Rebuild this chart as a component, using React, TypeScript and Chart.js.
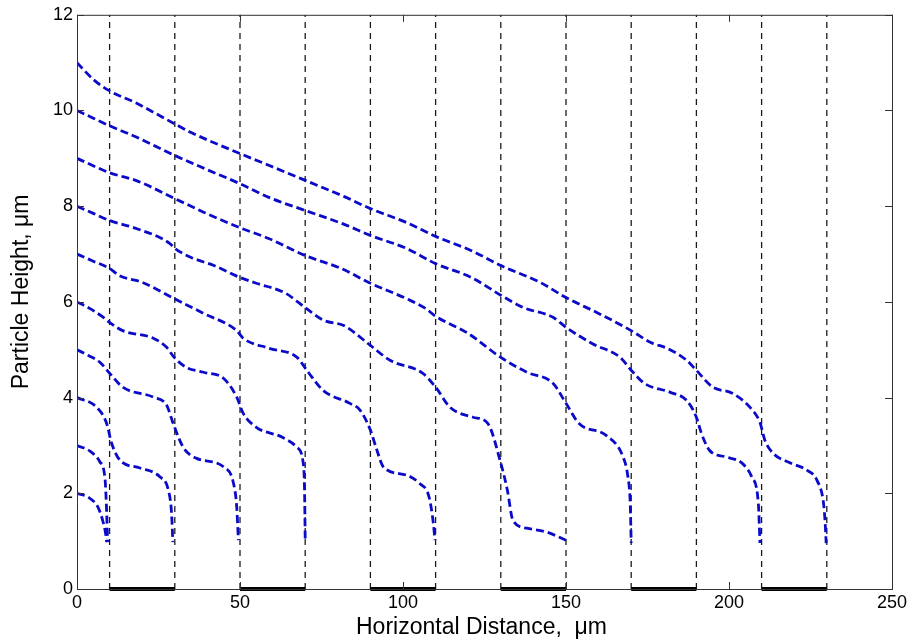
import React, { useEffect, useRef } from "react";
import { Chart, registerables } from "chart.js";
Chart.register(...registerables);

// Axis ticks
const xTicks = [0, 50, 100, 150, 200, 250];
const yTicks = [0, 2, 4, 6, 8, 10, 12];
const xTitle = "Horizontal Distance,  μm";
const yTitle = "Particle Height, μm";

// Electrode edges (dashed verticals) and electrodes on the floor
const edgeLines = [10, 30, 50, 70, 90, 110, 130, 150, 170, 190, 210, 230];
const electrodeStarts = [10, 50, 90, 130, 170, 210];
const electrodeEnds = [30, 70, 110, 150, 190, 230];

// Particle trajectories (start height in name)
const x11 = [0, 5, 10, 18, 30, 35, 50, 59, 70, 82, 90, 101, 110, 121, 130, 142, 150, 160, 170, 176, 181, 187, 190, 195, 201, 206.4, 209.5, 211, 213.5, 219, 224, 227, 229, 229.5, 229.8];
const y11 = [11.0, 10.65, 10.41, 10.16, 9.72, 9.54, 9.10, 8.85, 8.54, 8.20, 7.95, 7.66, 7.37, 7.07, 6.76, 6.41, 6.09, 5.76, 5.40, 5.15, 5.03, 4.78, 4.57, 4.22, 4.09, 3.80, 3.48, 3.11, 2.84, 2.63, 2.48, 2.27, 1.79, 1.38, 0.96];

const x10 = [0, 5, 10, 18, 30, 39, 50, 59, 70, 82, 90, 101, 110, 121, 130, 137, 146, 150, 158, 166.6, 170, 174, 182, 187, 190, 191.5, 194, 199, 204, 207, 209, 209.5];
const y10 = [10.0, 9.84, 9.68, 9.45, 9.06, 8.79, 8.47, 8.18, 7.91, 7.62, 7.39, 7.12, 6.80, 6.51, 6.14, 5.88, 5.68, 5.47, 5.13, 4.84, 4.57, 4.30, 4.11, 3.94, 3.59, 3.26, 2.90, 2.76, 2.63, 2.34, 1.79, 0.96];

const x9 = [0, 10, 18.4, 30, 39, 50, 59, 70, 81, 90, 101, 107, 110, 120, 130, 138, 146, 150, 154, 162.5, 167.5, 169, 169.7, 170];
const y9 = [9.0, 8.70, 8.53, 8.16, 7.87, 7.55, 7.32, 6.97, 6.70, 6.39, 6.07, 5.86, 5.70, 5.34, 4.84, 4.53, 4.30, 3.88, 3.46, 3.20, 2.76, 2.34, 1.79, 0.96];

const x8 = [0, 5, 10, 18.4, 28.5, 30, 35, 42, 50, 55, 64, 70, 75.5, 82, 90, 96, 106, 110, 114.4, 121.5, 126, 130, 132, 133.7, 138, 144, 150];
const y8 = [8.0, 7.85, 7.70, 7.53, 7.22, 7.12, 6.93, 6.76, 6.51, 6.39, 6.18, 5.88, 5.62, 5.50, 5.09, 4.78, 4.51, 4.22, 3.80, 3.59, 3.46, 2.63, 2.07, 1.44, 1.27, 1.19, 1.02];

const x7 = [0, 5, 10, 13, 20, 29.8, 38.8, 49, 51, 59, 67.5, 70.5, 75.5, 83.7, 86.8, 90, 92, 94, 101, 105, 108, 109.3, 109.8];
const y7 = [7.0, 6.85, 6.70, 6.55, 6.41, 6.07, 5.76, 5.40, 5.24, 5.03, 4.84, 4.57, 4.15, 3.88, 3.74, 3.32, 2.90, 2.55, 2.38, 2.21, 1.92, 1.38, 1.02];

const x6 = [0, 4, 8, 10, 14, 23.4, 27.5, 29.8, 33.6, 38.8, 45, 49, 51, 55, 63, 67.5, 69.4, 69.8, 70];
const y6 = [6.0, 5.86, 5.68, 5.57, 5.40, 5.24, 5.05, 4.84, 4.63, 4.53, 4.40, 4.01, 3.67, 3.38, 3.17, 2.96, 2.63, 2.07, 1.02];

const x5 = [0, 3.5, 7, 10, 14, 23.4, 27.5, 29.5, 32.6, 36.7, 45, 48, 49, 49.5];
const y5 = [5.0, 4.88, 4.74, 4.51, 4.22, 4.01, 3.84, 3.46, 2.96, 2.73, 2.55, 2.21, 1.71, 1.02];

const x4 = [0, 6, 9.1, 10.6, 13.2, 19.3, 25.5, 28, 29, 29.4];
const y4 = [4.0, 3.80, 3.46, 3.05, 2.69, 2.53, 2.34, 2.07, 1.59, 0.98];

const x3 = [0, 4, 7, 8.6, 9.1, 9.4];
const y3 = [3.0, 2.88, 2.66, 2.30, 1.60, 0.98];

const x2 = [0, 3.4, 6.5, 8, 8.8, 9.1];
const y2 = [2.0, 1.92, 1.70, 1.40, 1.15, 0.98];

const trajectories = [
  [x11, y11], [x10, y10], [x9, y9], [x8, y8], [x7, y7],
  [x6, y6], [x5, y5], [x4, y4], [x3, y3], [x2, y2],
];

const FONT = "'Liberation Sans', Arial, Helvetica, sans-serif";

const framePlugin = {
  id: "frameTicks",
  afterDraw(chart: any) {
    const { ctx, chartArea: a, scales } = chart;
    ctx.save();
    ctx.strokeStyle = "#333";
    ctx.lineWidth = 1;
    ctx.strokeRect(a.left + 0.5, a.top + 0.5, a.right - a.left, a.bottom - a.top);
    ctx.beginPath();
    const len = 7;
    xTicks.forEach((v) => {
      const p = Math.round(scales.x.getPixelForValue(v)) + 0.5;
      ctx.moveTo(p, a.bottom);
      ctx.lineTo(p, a.bottom - len);
      ctx.moveTo(p, a.top);
      ctx.lineTo(p, a.top + len);
    });
    yTicks.forEach((v) => {
      const p = Math.round(scales.y.getPixelForValue(v)) + 0.5;
      ctx.moveTo(a.left, p);
      ctx.lineTo(a.left + len, p);
      ctx.moveTo(a.right, p);
      ctx.lineTo(a.right - len, p);
    });
    ctx.stroke();

    // axis titles
    ctx.fillStyle = "#000";
    ctx.font = `23px ${FONT}`;
    ctx.textAlign = "center";
    ctx.textBaseline = "alphabetic";
    ctx.fillText(xTitle, (a.left + a.right) / 2 - 3, 634);
    ctx.translate(28, (a.top + a.bottom) / 2 - 10);
    ctx.rotate(-Math.PI / 2);
    ctx.fillText(yTitle, 0, 0);
    ctx.restore();
  },
};

export default function App() {
  const ref = useRef<HTMLCanvasElement | null>(null);
  useEffect(() => {
    document.body.style.margin = "0";
    document.body.style.overflow = "hidden";
    const curveSets = trajectories.map(([xs, ys]) => ({
      type: "line",
      data: xs.map((x, i) => ({ x, y: ys[i] })),
      borderColor: "rgb(10,10,200)",
      borderWidth: 2.8,
      borderDash: [8, 4],
      pointRadius: 0,
      cubicInterpolationMode: "monotone",
      fill: false,
    }));
    const edgeSets = edgeLines.map((x) => ({
      type: "line",
      data: [{ x, y: 0 }, { x, y: 12 }],
      borderColor: "#1a1a1a",
      borderWidth: 1.3,
      borderDash: [6, 5],
      pointRadius: 0,
      fill: false,
    }));
    const electrodeSets = electrodeStarts.map((s, i) => ({
      type: "line",
      data: [{ x: s, y: 0 }, { x: electrodeEnds[i], y: 0 }],
      borderColor: "#000",
      borderWidth: 4,
      pointRadius: 0,
      clip: false,
      fill: false,
    }));
    const chart = new Chart(ref.current as HTMLCanvasElement, {
      type: "line",
      data: { datasets: [...curveSets, ...electrodeSets, ...edgeSets] as any },
      options: {
        animation: false,
        responsive: false,
        layout: { padding: { left: 0, right: 19, top: 14, bottom: 0 } },
        plugins: { legend: { display: false }, tooltip: { enabled: false } },
        scales: {
          x: {
            type: "linear",
            min: 0,
            max: 250,
            afterBuildTicks: (s: any) => { s.ticks = xTicks.map((v) => ({ value: v })); },
            afterFit: (s: any) => { s.height = 52; },
            ticks: { color: "#000", padding: 3, maxRotation: 0, font: { size: 18, family: FONT } },
            grid: { display: false, drawTicks: false },
            border: { display: false },
            title: { display: false },
          },
          y: {
            type: "linear",
            min: 0,
            max: 12,
            afterBuildTicks: (s: any) => { s.ticks = yTicks.map((v) => ({ value: v })); },
            afterFit: (s: any) => { s.width = 77; },
            ticks: { color: "#000", padding: 4, font: { size: 18, family: FONT } },
            grid: { display: false, drawTicks: false },
            border: { display: false },
            title: { display: false },
          },
        },
      } as any,
      plugins: [framePlugin],
    });
    return () => chart.destroy();
  }, []);
  return (
    <div style={{ width: 911, height: 641 }}>
      <canvas ref={ref} width={911} height={641} style={{ width: 911, height: 641, display: "block" }} />
    </div>
  );
}
